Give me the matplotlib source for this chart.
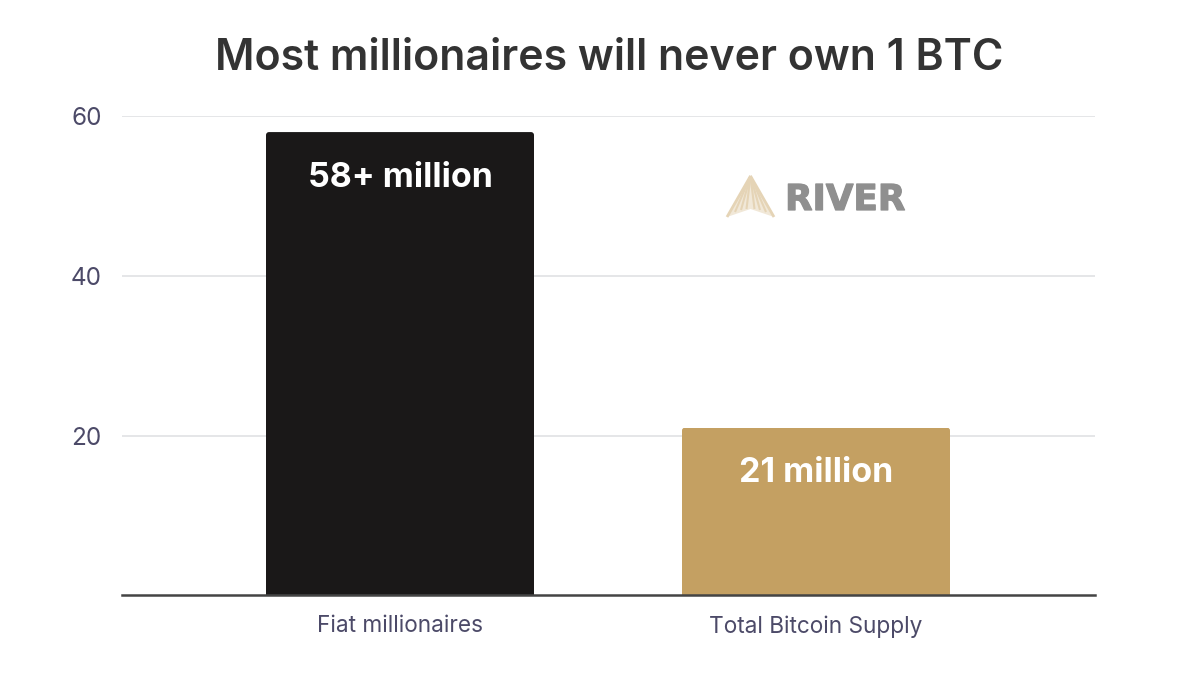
import numpy as np
import matplotlib
matplotlib.use("Agg")
import matplotlib.pyplot as plt
import matplotlib.patheffects as pe
from matplotlib.patches import FancyBboxPatch, Polygon
from matplotlib.transforms import IdentityTransform

categories = ["Fiat millionaires", "Total Bitcoin Supply"]
values = [58, 21]
bar_labels = ["58+ million", "21 million"]
bar_colors = ["#1a1818", "#c4a062"]
yticks = [20, 40, 60]

plt.rcParams['font.family'] = ['Inter', 'DejaVu Sans']

W, H = 1200, 675
fig = plt.figure(figsize=(12, 6.75), dpi=100, facecolor="white")
ax = fig.add_axes([122 / W, 1 - 595.3 / H, (1095 - 122) / W, (595.3 - 116.1) / H])

x = np.arange(len(categories))
bars = ax.bar(x, values, width=268 / 416, color=bar_colors, zorder=3)
ax.set_xlim(-278 / 416, 1 + 279 / 416)
ax.set_ylim(0, 60)

# rounded top corners, square at the baseline
fig.canvas.draw()
for b in bars:
    bb = b.get_window_extent()
    clip = FancyBboxPatch((bb.x0 + 3, bb.y0 - 10), bb.width - 6, bb.height + 10 - 3,
                          boxstyle="round,pad=3,rounding_size=3",
                          transform=IdentityTransform())
    b.set_clip_path(clip)

ax.set_yticks(yticks)
ax.set_xticks(x, categories)
ax.tick_params(axis="y", length=0, pad=14.5, labelsize=17.5, labelcolor="#4c4a68")
ax.tick_params(axis="x", length=0, pad=14.3, labelsize=16.3, labelcolor="#4c4a68")
ax.grid(axis="y", color="#dedfe1", linewidth=1.1, zorder=0)
ax.set_axisbelow(True)
for s in ["top", "left", "right"]:
    ax.spines[s].set_visible(False)
ax.spines["bottom"].set_color("#444444")
ax.spines["bottom"].set_linewidth(1.8)
ax.spines["bottom"].set_zorder(5)

for xi, v, lab in zip(x, values, bar_labels):
    ax.annotate(lab, (xi, v), xytext=(0, -45.5 * 0.72), textcoords="offset points",
                ha="center", va="center", color="white", fontsize=24.5,
                fontweight="bold", zorder=6)

fig.text(609 / W, 1 - 59 / H, "Most millionaires will never own 1 BTC", ha="center",
         va="center", fontsize=30.8, fontweight="semibold", color="#333333")

# River logo
logo_ax = fig.add_axes([0, 0, 1, 1], facecolor="none")
logo_ax.set_xlim(0, W)
logo_ax.set_ylim(H, 0)
logo_ax.axis("off")
apex = (750.5, 176)
logo_ax.add_patch(Polygon([apex, (774, 217), (750.5, 209), (727, 217)], closed=True,
                          facecolor="#f1e8d8", edgecolor="none"))
for xb, yb, w in [(727, 217, 2.0), (735, 212, 1.5), (741, 210, 1.5), (746.5, 209, 1.5),
                  (754.5, 209, 1.5), (760, 210, 1.5), (766, 212, 1.5), (774, 217, 2.0)]:
    logo_ax.plot([apex[0], xb], [apex[1], yb], color="#e5d4b6", lw=w, solid_capstyle="butt")
logo_ax.text(845, 200, "RIVER", ha="center", va="center", fontsize=25.7, fontweight="bold",
             family="DejaVu Sans", color="#8f8f8f",
             path_effects=[pe.withStroke(linewidth=0.9, foreground="#8f8f8f")])

fig.savefig("out.png", dpi=100, facecolor="white")
